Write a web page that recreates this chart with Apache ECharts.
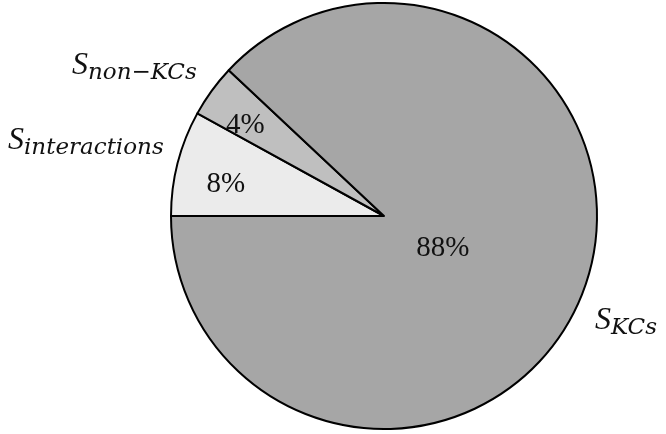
<!DOCTYPE html>
<html><head><meta charset="utf-8">
<script src="https://cdn.jsdelivr.net/npm/echarts@6/dist/echarts.min.js"></script>
<style>html,body{margin:0;padding:0;background:#fff}#c{width:666px;height:434px}</style>
</head><body><div id="c"></div>
<script>
const categories = ['interactions', 'non\u2212KCs', 'KCs'];
const values = [8, 4, 88];
const colors = ['#ebebeb', '#bfbfbf', '#a6a6a6'];

const chart = echarts.init(document.getElementById('c'), null, {renderer: 'canvas'});
const center = [384, 216];
const radius = 213;
const innerShift = [[-52, -4], [-50, -26], [-43, -8]];
const outerShift = [[-9, -22], [-10, -25], [8, 26]];

const data = categories.map((c, i) => ({name: c, value: values[i], itemStyle: {color: colors[i]}}));

chart.setOption({
  animation: false,
  series: [
    {
      type: 'pie', center: center, radius: [0, radius], startAngle: 180, clockwise: true,
      silent: true,
      itemStyle: {borderColor: '#000', borderWidth: 2},
      label: {position: 'inside', formatter: p => p.value + '%', fontFamily: 'Liberation Serif', fontSize: 29, color: '#111'},
      labelLayout: p => ({dx: innerShift[p.dataIndex][0], dy: innerShift[p.dataIndex][1]}),
      data: data
    },
    {
      type: 'pie', center: center, radius: [0, radius], startAngle: 180, clockwise: true,
      silent: true,
      itemStyle: {color: 'rgba(0,0,0,0)', borderWidth: 0},
      label: {
        position: 'outside',
        formatter: p => '{s|S}{sub|' + p.name + '}',
        rich: {
          s: {fontFamily: 'Liberation Serif', fontStyle: 'italic', fontSize: 32, lineHeight: 38, color: '#111'},
          sub: {fontFamily: 'DejaVu Serif', fontStyle: 'italic', fontSize: 23, lineHeight: 22, verticalAlign: 'bottom', color: '#111'}
        }
      },
      labelLine: {show: false, length: 0, length2: 0},
      labelLayout: p => ({dx: outerShift[p.dataIndex][0], dy: outerShift[p.dataIndex][1]}),
      data: data.map(d => ({name: d.name, value: d.value}))
    }
  ]
});
</script></body></html>
